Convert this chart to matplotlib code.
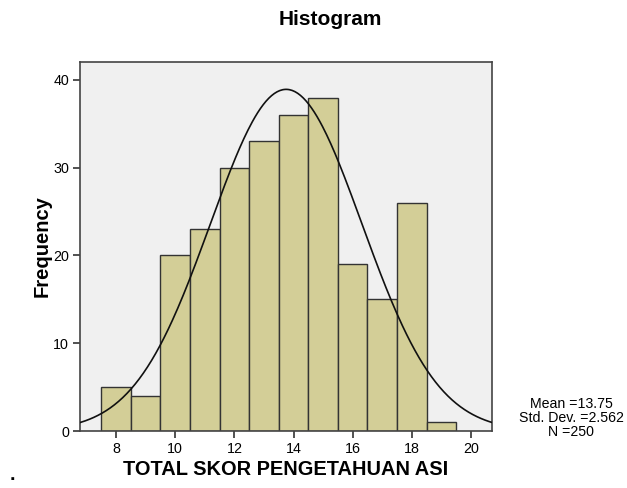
import numpy as np
import matplotlib
matplotlib.use("Agg")
import matplotlib.pyplot as plt

plt.rcParams["font.family"] = ["Liberation Sans", "DejaVu Sans"]

# histogram data
scores = [8, 9, 10, 11, 12, 13, 14, 15, 16, 17, 18, 19]
counts = [5, 4, 20, 23, 30, 33, 36, 38, 19, 15, 26, 1]
mean = 13.75
std = 2.562
n = 250

fig = plt.figure(figsize=(6.27, 4.88), dpi=100)
ax = fig.add_axes([0.1276, 0.1168, 0.6571, 0.7562])
ax.set_facecolor("#F0F0F0")

ax.bar(scores, counts, width=1.0, color="#D3CE97", edgecolor="#333333", linewidth=1.0, zorder=2)

xs = np.linspace(6.78, 20.71, 300)
ys = n * 1.0 / (std * np.sqrt(2 * np.pi)) * np.exp(-0.5 * ((xs - mean) / std) ** 2)
ax.plot(xs, ys, color="#111111", linewidth=1.2, zorder=3)

ax.set_xlim(6.78, 20.71)
ax.set_ylim(0, 42.05)
ax.set_xticks([8, 10, 12, 14, 16, 18, 20])
ax.set_yticks([0, 10, 20, 30, 40])
ax.tick_params(direction="out", length=5, width=1.2, labelsize=10.3, color="#333333", pad=3)
for s in ax.spines.values():
    s.set_color("#444444")
    s.set_linewidth(1.2)

ax.set_xlabel("TOTAL SKOR PENGETAHUAN ASI", fontsize=14.4, fontweight="bold", labelpad=3)
ax.set_ylabel("Frequency", fontsize=14.5, fontweight="bold", labelpad=1)
fig.text(0.527, 0.961, "Histogram", ha="center", va="center", fontsize=15, fontweight="bold")

fig.text(0.911, 0.143, "Mean =%.2f\nStd. Dev. =%.3f\nN =%d" % (mean, std, n),
         ha="center", va="center", fontsize=10.2, linespacing=1.0)
fig.text(0.02, 0.016, ".", ha="center", va="baseline", fontsize=14, fontweight="bold")

fig.savefig("out.png", dpi=100)
